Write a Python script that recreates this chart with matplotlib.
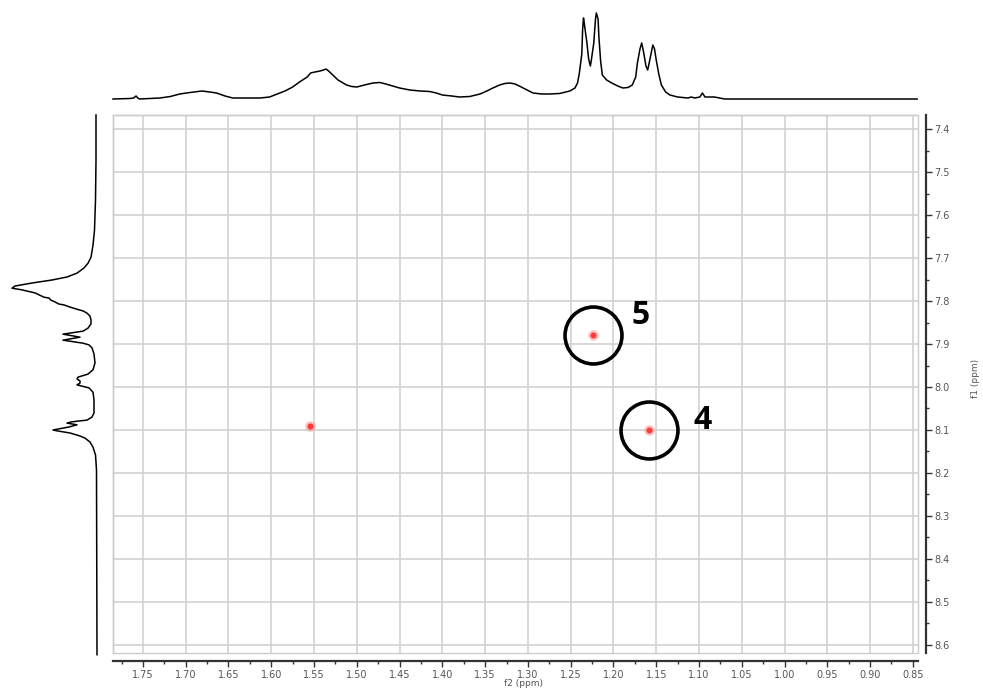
import numpy as np
import matplotlib.pyplot as plt
from matplotlib.patches import Rectangle
from matplotlib.ticker import MultipleLocator, FormatStrFormatter

# f2 projection (top trace), ppm vs intensity
f2_ppm = [1.785, 1.765, 1.761, 1.758, 1.756, 1.754, 1.730, 1.718, 1.707, 1.695,
          1.681, 1.672, 1.664, 1.654, 1.645, 1.631, 1.613, 1.602, 1.593, 1.584,
          1.575, 1.567, 1.558, 1.554, 1.549, 1.543, 1.539, 1.536, 1.533, 1.528,
          1.522, 1.516, 1.512, 1.506, 1.500, 1.491, 1.481, 1.473, 1.466, 1.458,
          1.450, 1.438, 1.426, 1.415, 1.407, 1.400, 1.389, 1.380, 1.368, 1.356,
          1.348, 1.341, 1.333, 1.327, 1.321, 1.315, 1.310, 1.301, 1.294, 1.284,
          1.275, 1.263, 1.251, 1.245, 1.242, 1.240, 1.237, 1.236, 1.235, 1.234,
          1.231, 1.229, 1.227, 1.226, 1.223, 1.221, 1.220, 1.218, 1.217, 1.215,
          1.213, 1.208, 1.202, 1.195, 1.189, 1.183, 1.178, 1.174, 1.172, 1.169,
          1.167, 1.165, 1.162, 1.160, 1.158, 1.154, 1.152, 1.150, 1.147, 1.144,
          1.139, 1.134, 1.125, 1.113, 1.109, 1.105, 1.099, 1.096, 1.093, 1.088,
          1.082, 1.070, 0.845]
f2_int = [0, 0.5, 1, 3, 1, 0, 1, 2.5, 5, 6.5,
          8, 7, 6, 3, 1, 1, 1, 2, 5, 8,
          12, 17, 22, 26, 27, 28, 29, 30, 28, 24,
          19, 16, 14, 12.5, 12, 14, 16, 16.5, 15, 13,
          11, 9, 8, 7.5, 6, 4, 3, 2, 2.5, 5,
          8, 11, 14, 15.5, 16, 15, 13, 9, 6, 5,
          5, 5.5, 8, 11, 16, 25, 45, 70, 81, 75,
          56, 40, 33, 38, 56, 80, 86, 80, 62, 38,
          24, 19, 16, 13, 11, 11.5, 14, 22, 36, 50,
          56, 48, 33, 29, 37, 54, 50, 39, 25, 14,
          7, 4, 2, 1, 2, 1, 2, 6, 2, 2,
          2, 0, 0]

# f1 projection (left trace)
f1_ppm = [7.367, 7.472, 7.565, 7.635, 7.670, 7.698, 7.712, 7.723, 7.735, 7.744,
          7.751, 7.758, 7.765, 7.770, 7.774, 7.781, 7.791, 7.793, 7.798, 7.802,
          7.807, 7.809, 7.814, 7.819, 7.823, 7.828, 7.835, 7.844, 7.853, 7.863,
          7.870, 7.877, 7.884, 7.891, 7.898, 7.902, 7.909, 7.923, 7.944, 7.960,
          7.970, 7.977, 7.981, 7.986, 7.991, 7.995, 7.998, 8.002, 8.012, 8.030,
          8.060, 8.070, 8.077, 8.081, 8.084, 8.088, 8.093, 8.100, 8.102, 8.107,
          8.114, 8.119, 8.128, 8.140, 8.158, 8.193, 8.623]
f1_int = [1, 1, 1.5, 2.5, 4, 6, 9, 13, 20, 30,
          45, 65, 82, 85, 75, 62, 53, 48, 46, 42,
          38, 33, 27, 20, 14, 10, 7, 6, 6, 9,
          14, 34, 17, 34, 14, 8, 5, 3, 2, 4,
          9, 19, 20, 17, 17, 20, 15, 8, 4, 3,
          3, 5, 10, 25, 30, 20, 28, 44, 40, 27,
          17, 12, 7, 4, 1.5, 0.5, 0]

# cross peaks
peak_f2 = [1.555, 1.224, 1.158]
peak_f1 = [8.091, 7.879, 8.100]
peak_labels = ['', '5', '4']
label_offsets = {'5': (34, 14), '4': (38, 7)}

W, H = 983, 689


def px_rect(l, t, r, b):
    return [l / W, 1 - b / H, (r - l) / W, (b - t) / H]


fig = plt.figure(figsize=(W / 100, H / 100), dpi=100)
ax = fig.add_axes(px_rect(113, 115, 918, 653))
top = fig.add_axes(px_rect(113, 9, 918, 99))
left = fig.add_axes(px_rect(0, 115, 97, 653))

xlim = (1.785, 0.844)
ylim = (8.619, 7.367)

# main 2D panel
ax.set_xlim(*xlim)
ax.set_ylim(*ylim)
ax.xaxis.set_major_locator(MultipleLocator(0.05))
ax.xaxis.set_minor_locator(MultipleLocator(0.025))
ax.yaxis.set_major_locator(MultipleLocator(0.1))
ax.yaxis.set_minor_locator(MultipleLocator(0.05))
ax.xaxis.set_major_formatter(FormatStrFormatter('%.2f'))
ax.yaxis.set_major_formatter(FormatStrFormatter('%.1f'))
ax.grid(which='major', color='#d2d2d2', lw=1.2)
ax.set_axisbelow(True)

for s in ['top', 'left']:
    ax.spines[s].set_color('#cccccc')
    ax.spines[s].set_linewidth(1.0)
for s in ['bottom', 'right']:
    ax.spines[s].set_position(('outward', 6))
    ax.spines[s].set_color('#333333')
    ax.spines[s].set_linewidth(1.6)
ax.add_patch(Rectangle((0, 0), 1, 1, transform=ax.transAxes, fill=False,
                       ec='#cccccc', lw=1.0, clip_on=False))

ax.tick_params(which='both', direction='out', color='#333333', width=1,
               labelcolor='#555555', labelsize=7, top=False, left=False,
               right=True, labelleft=False, labelright=True)
ax.tick_params(which='major', length=4, pad=2)
ax.tick_params(which='minor', length=2.5)

ax.scatter(peak_f2, peak_f1, s=60, color='#ff9a9a', alpha=0.55, lw=0, zorder=3)
ax.scatter(peak_f2, peak_f1, s=20, color='#ff3c3c', lw=0, zorder=4)

for x, y, lab in zip(peak_f2, peak_f1, peak_labels):
    if not lab:
        continue
    ax.plot(x, y, 'o', ms=41, mfc='none', mec='black', mew=2.6, zorder=5)
    ax.annotate(lab, (x, y), xytext=label_offsets[lab], textcoords='offset points',
                fontsize=23, fontweight='bold', family='Open Sans',
                ha='center', va='center', color='black')

fig.text(523 / W, 1 - 683 / H, 'f2 (ppm)', fontsize=6.5, color='#555555',
         ha='center', va='center')
fig.text(975 / W, 1 - 378 / H, 'f1 (ppm)', fontsize=6.5, color='#555555',
         ha='center', va='center', rotation=90)

# top projection
top.plot(f2_ppm, f2_int, color='black', lw=1.1, clip_on=False)
top.set_xlim(*xlim)
top.set_ylim(0, 90)
top.axis('off')

# left projection
left.plot(f1_int, f1_ppm, color='black', lw=1.1, clip_on=False)
left.set_xlim(97, 0)
left.set_ylim(*ylim)
left.axis('off')

fig.savefig('out.png', dpi=100)
